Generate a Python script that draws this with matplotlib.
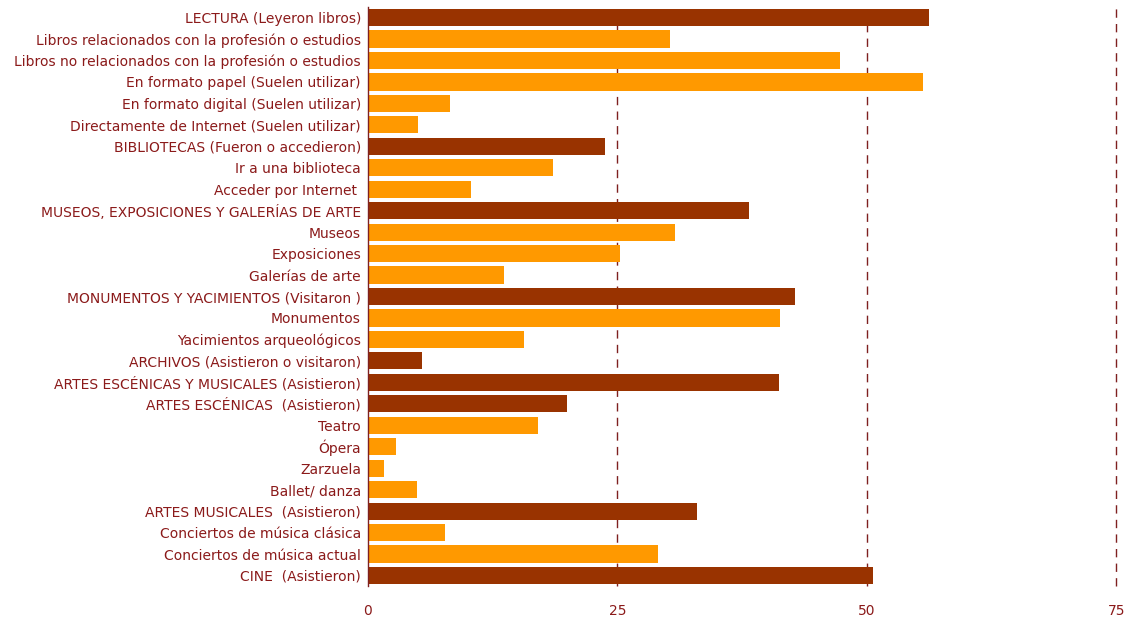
import matplotlib
matplotlib.use('Agg')
import matplotlib.pyplot as plt

# Categorías (de arriba a abajo) y porcentajes
categorias = [
    'LECTURA (Leyeron libros)',
    'Libros relacionados con la profesión o estudios',
    'Libros no relacionados con la profesión o estudios',
    'En formato papel (Suelen utilizar)',
    'En formato digital (Suelen utilizar)',
    'Directamente de Internet (Suelen utilizar)',
    'BIBLIOTECAS (Fueron o accedieron)',
    'Ir a una biblioteca',
    'Acceder por Internet ',
    'MUSEOS, EXPOSICIONES Y GALERÍAS DE ARTE',
    'Museos',
    'Exposiciones',
    'Galerías de arte',
    'MONUMENTOS Y YACIMIENTOS (Visitaron )',
    'Monumentos',
    'Yacimientos arqueológicos',
    'ARCHIVOS (Asistieron o visitaron)',
    'ARTES ESCÉNICAS Y MUSICALES (Asistieron)',
    'ARTES ESCÉNICAS  (Asistieron)',
    'Teatro',
    'Ópera',
    'Zarzuela',
    'Ballet/ danza',
    'ARTES MUSICALES  (Asistieron)',
    'Conciertos de música clásica',
    'Conciertos de música actual',
    'CINE  (Asistieron)',
]
valores = [56.2, 30.3, 47.3, 55.6, 8.2, 5.0, 23.8, 18.6, 10.3, 38.2, 30.8, 25.3,
           13.6, 42.8, 41.3, 15.6, 5.4, 41.2, 20.0, 17.0, 2.8, 1.6, 4.9, 33.0,
           7.7, 29.1, 50.6]
# True = categoría principal (barra oscura)
principal = [True, False, False, False, False, False, True, False, False, True,
             False, False, False, True, False, False, True, True, True, False,
             False, False, False, True, False, False, True]
ticks_x = [0, 25, 50, 75]

color_oscuro = '#993300'
color_claro = '#FF9900'
color_texto = '#8B1A1A'
color_lineas = '#7F2020'

plt.rcParams['font.family'] = ['DejaVu Sans']

fig = plt.figure(figsize=(11.32, 6.21), dpi=100)
ax = fig.add_axes([0.325, 0.056, 0.661, 0.933])

colores = [color_oscuro if p else color_claro for p in principal]
ax.barh(range(len(categorias)), valores, height=0.8, color=colores, zorder=2)

for t in ticks_x[1:]:
    ax.axvline(t, color=color_lineas, lw=1.0, linestyle=(0, (6, 4.5)),
               zorder=1, clip_on=False)

ax.set_xlim(0, 75)
ax.set_ylim(len(categorias) - 0.5, -0.5)
ax.set_yticks(range(len(categorias)))
ax.set_yticklabels(categorias)
ax.set_xticks(ticks_x)
ax.tick_params(axis='y', length=0, pad=5, labelsize=10, labelcolor=color_texto)
ax.tick_params(axis='x', length=0, pad=13, labelsize=10, labelcolor=color_texto)

for s in ['top', 'right', 'bottom']:
    ax.spines[s].set_visible(False)
ax.spines['left'].set_color(color_lineas)
ax.spines['left'].set_linewidth(1.0)

fig.savefig('out.png', dpi=100)
